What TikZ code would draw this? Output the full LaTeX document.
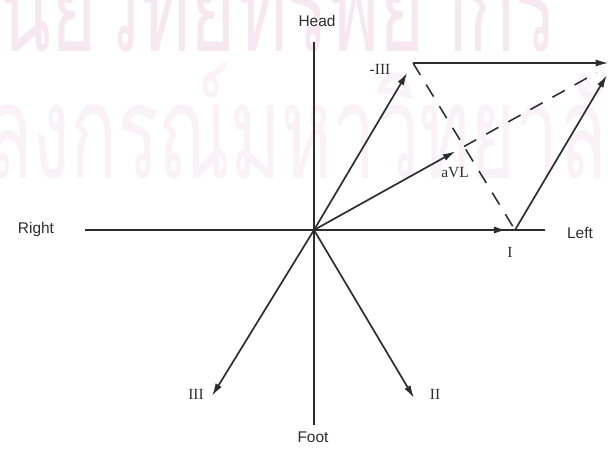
\documentclass[tikz,border=0pt]{standalone}
\usepackage{fontspec}
\setmainfont{Liberation Serif}
\setsansfont{Liberation Sans}
\newfontfamily\thaifont[Script=Thai]{Loma}
\usepackage{xcolor}
\usepackage{graphicx}
\usetikzlibrary{arrows.meta, positioning}

\definecolor{wmpink}{RGB}{225,160,195}
\definecolor{ink}{RGB}{45,45,45}

\begin{document}
\begin{tikzpicture}[x=0.025cm, y=-0.025cm,
    axis/.style={line width=1.1pt, ink},
    vec/.style={line width=1.2pt, ink, -{Latex[length=9pt,width=5pt]}},
    guide/.style={line width=1.1pt, ink, dash pattern=on 10pt off 8pt},
    dirlabel/.style={font=\sffamily\fontsize{11}{13}\selectfont, text=ink},
    leadlabel/.style={font=\fontsize{11}{13}\selectfont, text=ink},
    wmark/.style={anchor=base west, inner sep=0pt, text=wmpink}]
  \useasboundingbox (0,0) rectangle (609,448);
  \clip (0,0) rectangle (609,448);

  % watermark
  \node[wmark, text opacity=0.25] (wmtop) at (-2,51)
    {\scalebox{1}[1.7]{\thaifont\fontsize{55}{60}\selectfont\llap{ศู}นย์วิทยทรัพยากร}};
  \node[wmark, text opacity=0.14] (wmbot) at (-15,178)
    {\scalebox{1}[1.7]{\thaifont\fontsize{55}{60}\selectfont\llap{จุฬา}ลงกรณ์มหาวิทยาลัย}};

  % axes
  \node[dirlabel] (head) at (317,21) {Head};
  \node[dirlabel] (foot) at (313,437) {Foot};
  \node[dirlabel] (right) at (36,229) {Right};
  \node[dirlabel] (left) at (580,233) {Left};
  \coordinate (headend) at (314,42);
  \coordinate (footend) at (314,425);
  \coordinate (rightend) at (85,230);
  \coordinate (leftend) at (545,230);
  \draw[axis] (headend) -- (footend);
  \draw[axis] (rightend) -- (leftend);

  % leads
  \coordinate (O) at (314,230);
  \coordinate (pI) at (515,230);
  \coordinate (pmIII) at (413,63);
  \coordinate (pS) at (614,63);
  \coordinate (pM) at (464,146.5);
  \coordinate (pII) at (414,398);
  \coordinate (pIII) at (212,396);

  \draw[vec, shorten >=6pt] (O) -- (pI);
  \draw[vec, shorten >=8pt] (O) -- (pmIII);
  \draw[vec, shorten >=7pt] (O) -- (pM);
  \draw[vec] (O) -- (pII);
  \draw[vec] (O) -- (pIII);
  \draw[vec, shorten >=4pt] (pmIII) -- (pS);
  \draw[vec, shorten >=10pt] (pI) -- (pS);
  \draw[guide] (pmIII) -- (pI);
  \draw[guide, shorten >=14pt] (pM) -- (pS);

  \node[leadlabel] (lmIII) at (380,69) {-III};
  \node[leadlabel] (laVL) at (455,173) {aVL};
  \node[leadlabel] (lI) at (510,252) {I};
  \node[leadlabel] (lIII) at (196,394) {III};
  \node[leadlabel] (lII) at (435,394) {II};
\end{tikzpicture}
\end{document}
